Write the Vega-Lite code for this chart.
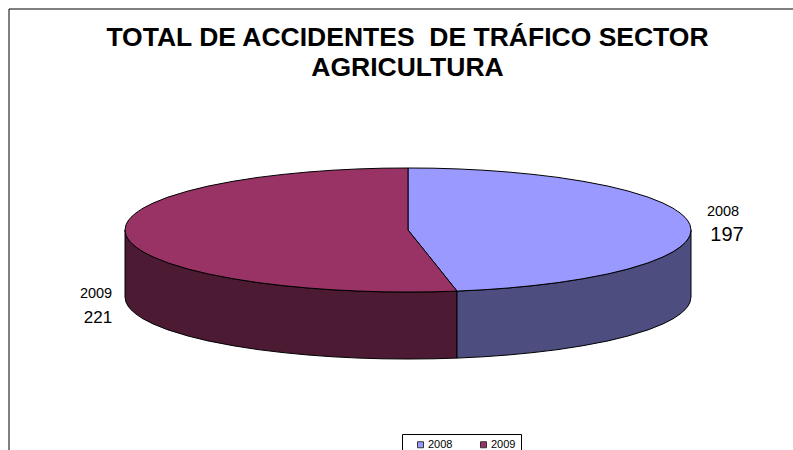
{"$schema":"https://vega.github.io/schema/vega-lite/v6.json","width":793,"height":450,"padding":0,"autosize":{"type":"none"},"background":"white","view":{"stroke":null},"title":{"text":["TOTAL DE ACCIDENTES \u00a0DE TRÁFICO SECTOR","AGRICULTURA"],"font":"Liberation Sans","fontSize":26.5,"fontWeight":"bold","color":"black","anchor":"middle","dx":11,"dy":81,"offset":0,"baseline":"top","lineHeight":30},
"datasets":{"pie":[
{"k":"2009 lado","x":-283,"y":0,"y2":-67},{"k":"2009 lado","x":-282,"y":-5.2,"y2":-72.2},{"k":"2009 lado","x":-280,"y":-9,"y2":-76},{"k":"2009 lado","x":-277,"y":-12.7,"y2":-79.7},{"k":"2009 lado","x":-272,"y":-17.1,"y2":-84.1},{"k":"2009 lado","x":-265,"y":-21.8,"y2":-88.8},{"k":"2009 lado","x":-255,"y":-26.9,"y2":-93.9},{"k":"2009 lado","x":-240,"y":-32.9,"y2":-99.9},{"k":"2009 lado","x":-220,"y":-39,"y2":-106},{"k":"2009 lado","x":-200,"y":-43.9,"y2":-110.9},{"k":"2009 lado","x":-175,"y":-48.7,"y2":-115.7},{"k":"2009 lado","x":-150,"y":-52.6,"y2":-119.6},{"k":"2009 lado","x":-125,"y":-55.6,"y2":-122.6},{"k":"2009 lado","x":-100,"y":-58,"y2":-125},{"k":"2009 lado","x":-75,"y":-59.8,"y2":-126.8},{"k":"2009 lado","x":-49,"y":-61.1,"y2":-128.1},{"k":"2009 lado","x":-25,"y":-61.8,"y2":-128.8},{"k":"2009 lado","x":0,"y":-62,"y2":-129},{"k":"2009 lado","x":25,"y":-61.8,"y2":-128.8},{"k":"2009 lado","x":49,"y":-61.1,"y2":-128.1},
{"k":"2008 lado","x":49,"y":-61.1,"y2":-128.1},{"k":"2008 lado","x":75,"y":-59.8,"y2":-126.8},{"k":"2008 lado","x":100,"y":-58,"y2":-125},{"k":"2008 lado","x":125,"y":-55.6,"y2":-122.6},{"k":"2008 lado","x":150,"y":-52.6,"y2":-119.6},{"k":"2008 lado","x":175,"y":-48.7,"y2":-115.7},{"k":"2008 lado","x":200,"y":-43.9,"y2":-110.9},{"k":"2008 lado","x":220,"y":-39,"y2":-106},{"k":"2008 lado","x":240,"y":-32.9,"y2":-99.9},{"k":"2008 lado","x":255,"y":-26.9,"y2":-93.9},{"k":"2008 lado","x":265,"y":-21.8,"y2":-88.8},{"k":"2008 lado","x":272,"y":-17.1,"y2":-84.1},{"k":"2008 lado","x":277,"y":-12.7,"y2":-79.7},{"k":"2008 lado","x":280,"y":-9,"y2":-76},{"k":"2008 lado","x":282,"y":-5.2,"y2":-72.2},{"k":"2008 lado","x":283,"y":0,"y2":-67},
{"k":"2008","x":0,"y":62,"y2":0},{"k":"2008","x":25,"y":61.8,"y2":-31.1},{"k":"2008","x":49,"y":61.1,"y2":-61.1},{"k":"2008","x":75,"y":59.8,"y2":-59.8},{"k":"2008","x":100,"y":58,"y2":-58},{"k":"2008","x":125,"y":55.6,"y2":-55.6},{"k":"2008","x":150,"y":52.6,"y2":-52.6},{"k":"2008","x":175,"y":48.7,"y2":-48.7},{"k":"2008","x":200,"y":43.9,"y2":-43.9},{"k":"2008","x":220,"y":39,"y2":-39},{"k":"2008","x":240,"y":32.9,"y2":-32.9},{"k":"2008","x":255,"y":26.9,"y2":-26.9},{"k":"2008","x":265,"y":21.8,"y2":-21.8},{"k":"2008","x":272,"y":17.1,"y2":-17.1},{"k":"2008","x":277,"y":12.7,"y2":-12.7},{"k":"2008","x":280,"y":9,"y2":-9},{"k":"2008","x":282,"y":5.2,"y2":-5.2},{"k":"2008","x":283,"y":0,"y2":0},
{"k":"2009","x":-283,"y":0,"y2":0},{"k":"2009","x":-282,"y":5.2,"y2":-5.2},{"k":"2009","x":-280,"y":9,"y2":-9},{"k":"2009","x":-277,"y":12.7,"y2":-12.7},{"k":"2009","x":-272,"y":17.1,"y2":-17.1},{"k":"2009","x":-265,"y":21.8,"y2":-21.8},{"k":"2009","x":-255,"y":26.9,"y2":-26.9},{"k":"2009","x":-240,"y":32.9,"y2":-32.9},{"k":"2009","x":-220,"y":39,"y2":-39},{"k":"2009","x":-200,"y":43.9,"y2":-43.9},{"k":"2009","x":-175,"y":48.7,"y2":-48.7},{"k":"2009","x":-150,"y":52.6,"y2":-52.6},{"k":"2009","x":-125,"y":55.6,"y2":-55.6},{"k":"2009","x":-100,"y":58,"y2":-58},{"k":"2009","x":-75,"y":59.8,"y2":-59.8},{"k":"2009","x":-49,"y":61.1,"y2":-61.1},{"k":"2009","x":-25,"y":61.8,"y2":-61.8},{"k":"2009","x":-0.01,"y":62,"y2":-62},{"k":"2009","x":0.01,"y":0,"y2":-62},{"k":"2009","x":25,"y":-31.1,"y2":-61.8},{"k":"2009","x":49,"y":-61.1,"y2":-61.1}
],"labels":[
{"kind":"year","text":"2008","x":315,"y":18},{"kind":"big","text":"197","x":319,"y":-5},{"kind":"year","text":"2009","x":-312,"y":-64},{"kind":"small","text":"221","x":-310,"y":-88}
],"frame":[{"x":-399,"x2":385,"y":221,"y2":-220}]},
"layer":[
{"data":{"name":"frame"},"mark":{"type":"rule","color":"black","strokeWidth":1},"encoding":{"x":{"field":"x","type":"quantitative","scale":{"domain":[-408,385]},"axis":null},"y":{"field":"y","type":"quantitative","scale":{"domain":[-220,230]},"axis":null},"y2":{"field":"y2"}}},
{"data":{"name":"frame"},"mark":{"type":"rule","color":"black","strokeWidth":1},"encoding":{"x":{"field":"x","type":"quantitative","scale":{"domain":[-408,385]},"axis":null},"x2":{"field":"x2"},"y":{"field":"y","type":"quantitative","scale":{"domain":[-220,230]},"axis":null}}},
{"data":{"name":"pie"},"mark":{"type":"area","stroke":"black","strokeWidth":1,"opacity":1,"interpolate":"linear"},"encoding":{"x":{"field":"x","type":"quantitative","scale":{"domain":[-408,385]},"axis":null},"y":{"field":"y","type":"quantitative","scale":{"domain":[-220,230]},"axis":null,"stack":null},"y2":{"field":"y2"},"color":{"field":"k","type":"nominal","scale":{"domain":["2008","2009","2008 lado","2009 lado"],"range":["#9999FF","#993366","#4D4D80","#4D1A33"]},"legend":{"values":["2008","2009"],"title":null,"orient":"none","legendX":402,"legendY":434,"direction":"horizontal","columns":2,"columnPadding":17,"symbolType":"square","symbolSize":36,"symbolOffset":8,"symbolStrokeColor":"#333333","symbolStrokeWidth":1,"labelFont":"Liberation Sans","labelFontSize":11,"labelColor":"black","labelOffset":2,"strokeColor":"black","fillColor":"white","padding":5,"offset":0}}}},
{"data":{"name":"labels"},"transform":[{"filter":"datum.kind==='year'"}],"mark":{"type":"text","font":"Liberation Sans","fontSize":14.5,"color":"black","align":"center","baseline":"middle"},"encoding":{"x":{"field":"x","type":"quantitative","scale":{"domain":[-408,385]},"axis":null},"y":{"field":"y","type":"quantitative","scale":{"domain":[-220,230]},"axis":null},"text":{"field":"text"}}},
{"data":{"name":"labels"},"transform":[{"filter":"datum.kind==='big'"}],"mark":{"type":"text","font":"Liberation Sans","fontSize":20,"color":"black","align":"center","baseline":"middle"},"encoding":{"x":{"field":"x","type":"quantitative","scale":{"domain":[-408,385]},"axis":null},"y":{"field":"y","type":"quantitative","scale":{"domain":[-220,230]},"axis":null},"text":{"field":"text"}}},
{"data":{"name":"labels"},"transform":[{"filter":"datum.kind==='small'"}],"mark":{"type":"text","font":"Liberation Sans","fontSize":17,"color":"black","align":"center","baseline":"middle"},"encoding":{"x":{"field":"x","type":"quantitative","scale":{"domain":[-408,385]},"axis":null},"y":{"field":"y","type":"quantitative","scale":{"domain":[-220,230]},"axis":null},"text":{"field":"text"}}}
]}
